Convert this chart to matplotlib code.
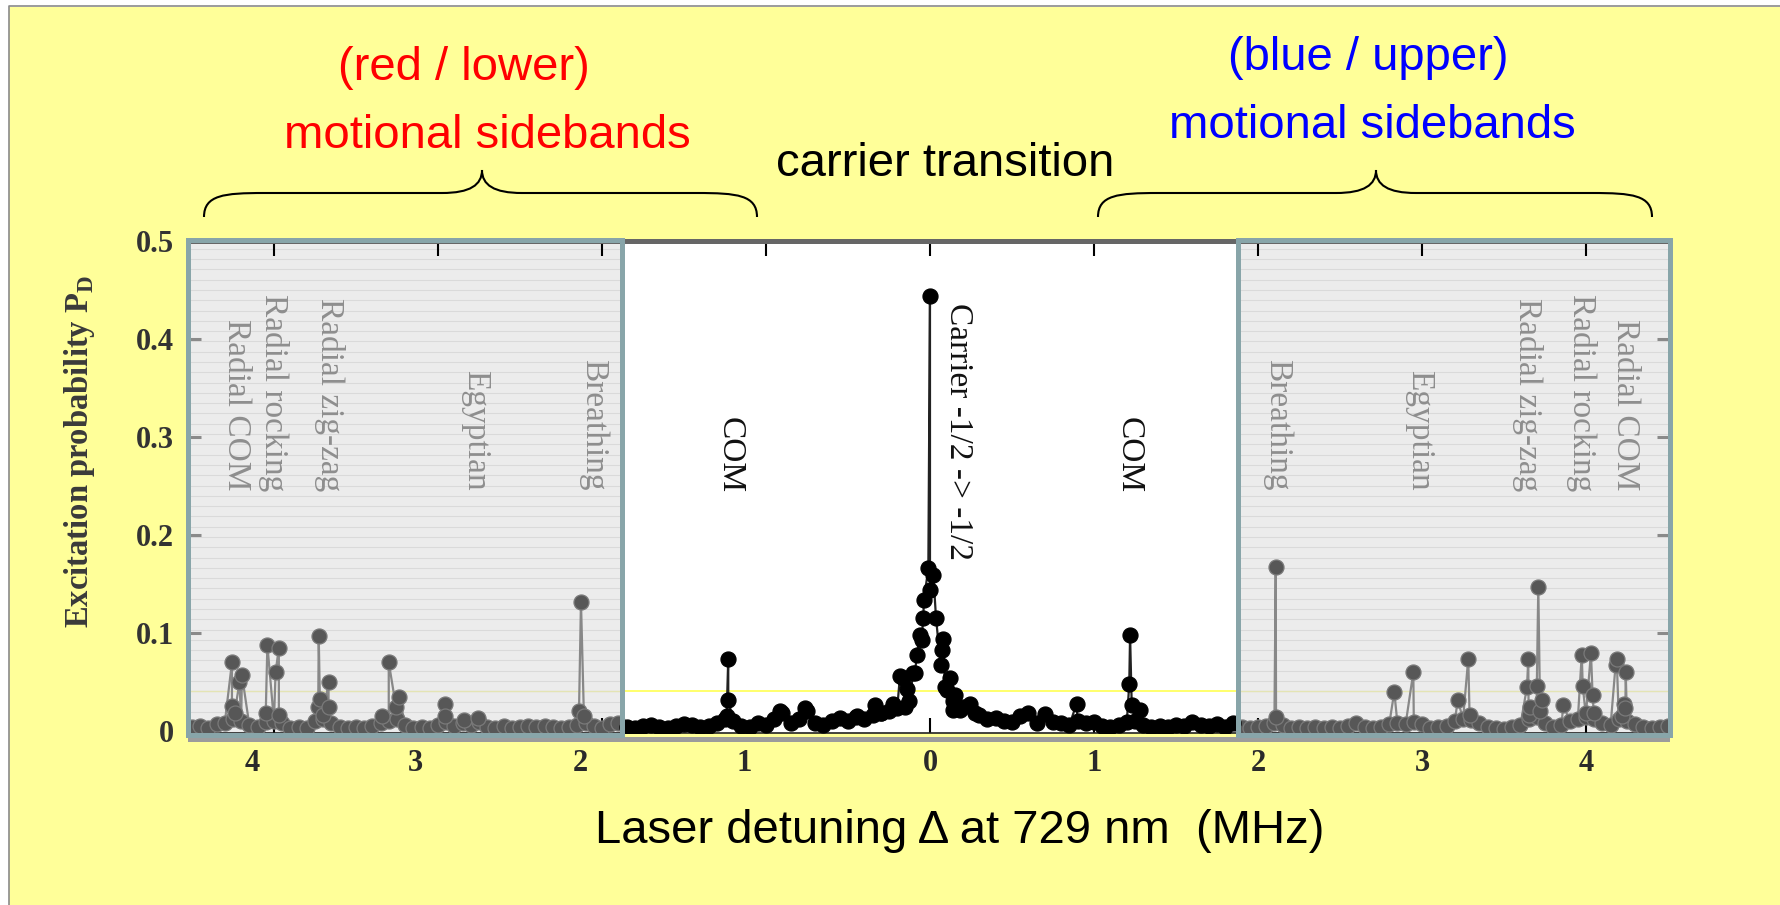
import numpy as np
import matplotlib
matplotlib.use("Agg")
import matplotlib.pyplot as plt
from matplotlib.patches import Rectangle, PathPatch
from matplotlib.path import Path

# ---------------- data: excitation probability vs. laser detuning (MHz) ----------------
# red (lower) sideband region: regular scan points
red_scan_x = [-4.50, -4.45, -4.40, -4.35, -4.30, -4.25, -4.20, -4.15, -4.10, -4.05,
              -4.00, -3.95, -3.90, -3.85, -3.80, -3.75, -3.70, -3.65, -3.60, -3.55,
              -3.50, -3.45, -3.40, -3.35, -3.30, -3.25, -3.20, -3.15, -3.10, -3.05,
              -3.00, -2.95, -2.90, -2.85, -2.80, -2.75, -2.70, -2.65, -2.60, -2.55,
              -2.50, -2.45, -2.40, -2.35, -2.30, -2.25, -2.20, -2.15, -2.10, -2.05,
              -2.00, -1.95, -1.90]
red_scan_y = [0.004, 0.005, 0.003, 0.007, 0.008, 0.012, 0.010, 0.006, 0.004, 0.009,
              0.010, 0.008, 0.003, 0.004, 0.003, 0.010, 0.012, 0.008, 0.004, 0.003,
              0.004, 0.003, 0.005, 0.008, 0.010, 0.012, 0.006, 0.003, 0.004, 0.003,
              0.006, 0.009, 0.005, 0.008, 0.006, 0.009, 0.004, 0.003, 0.005, 0.003,
              0.004, 0.005, 0.004, 0.005, 0.004, 0.003, 0.004, 0.006, 0.008, 0.005,
              0.003, 0.007, 0.008]
# red sideband resonances
red_peak_x = [-4.256, -4.256, -4.24, -4.21, -4.195, -4.05, -4.04, -3.99, -3.97, -3.97,
              -3.73, -3.727, -3.72, -3.70, -3.667, -3.667, -3.34, -3.30, -3.256, -3.236,
              -2.96, -2.96, -2.84, -2.758, -2.14, -2.128, -2.11]
red_peak_y = [0.070, 0.026, 0.018, 0.050, 0.057, 0.018, 0.088, 0.060, 0.085, 0.016,
              0.025, 0.097, 0.033, 0.016, 0.050, 0.025, 0.015, 0.070, 0.025, 0.035,
              0.028, 0.015, 0.011, 0.013, 0.020, 0.132, 0.015]

# carrier region: scan points on either side of the carrier
mid_left_x = [-1.85, -1.80, -1.75, -1.70, -1.65, -1.60, -1.55, -1.50, -1.45, -1.40,
              -1.35, -1.30, -1.25, -1.20, -1.15, -1.10, -1.05, -1.00, -0.95, -0.90,
              -0.85, -0.80, -0.75, -0.70, -0.65, -0.60, -0.55, -0.50, -0.45, -0.40,
              -0.35, -0.30, -0.25]
mid_left_y = [0.004, 0.003, 0.005, 0.006, 0.004, 0.003, 0.005, 0.007, 0.006, 0.004,
              0.005, 0.008, 0.012, 0.010, 0.005, 0.004, 0.008, 0.006, 0.012, 0.018,
              0.008, 0.012, 0.020, 0.008, 0.006, 0.010, 0.013, 0.010, 0.014, 0.012,
              0.016, 0.018, 0.020]
mid_right_x = [0.30, 0.35, 0.40, 0.45, 0.50, 0.55, 0.60, 0.65, 0.70, 0.75,
               0.80, 0.85, 0.90, 0.95, 1.00, 1.05, 1.10, 1.15, 1.20, 1.25,
               1.30, 1.35, 1.40, 1.45, 1.50, 1.55, 1.60, 1.65, 1.70, 1.75,
               1.80, 1.85]
mid_right_y = [0.016, 0.012, 0.013, 0.010, 0.009, 0.015, 0.018, 0.008, 0.017, 0.009,
               0.008, 0.006, 0.010, 0.008, 0.009, 0.005, 0.004, 0.006, 0.009, 0.010,
               0.006, 0.004, 0.005, 0.004, 0.006, 0.005, 0.009, 0.006, 0.005, 0.007,
               0.004, 0.008]
# carrier line, its wings and the axial COM sidebands
center_peak_x = [-1.23, -1.23, -1.24, -0.915, -0.762, -0.447, -0.335, -0.30, -0.224, -0.20,
                 -0.183, -0.163, -0.152, -0.142, -0.126, -0.102, -0.091, -0.081, -0.061, -0.051,
                 -0.041, -0.037, -0.010, 0.0, 0.0, 0.0205, 0.037, 0.065, 0.071, 0.081,
                 0.091, 0.102, 0.122, 0.14, 0.142, 0.152, 0.183, 0.20, 0.244, 0.274,
                 0.894, 1.215, 1.22, 1.23, 1.28]
center_peak_y = [0.074, 0.032, 0.015, 0.020, 0.023, 0.015, 0.027, 0.018, 0.028, 0.023,
                 0.056, 0.054, 0.025, 0.043, 0.031, 0.059, 0.059, 0.078, 0.098, 0.093,
                 0.115, 0.134, 0.166, 0.444, 0.144, 0.159, 0.115, 0.067, 0.083, 0.094,
                 0.045, 0.042, 0.054, 0.021, 0.031, 0.037, 0.021, 0.025, 0.028, 0.018,
                 0.028, 0.048, 0.098, 0.027, 0.021]

# blue (upper) sideband region
blue_scan_x = [1.90, 1.95, 2.00, 2.05, 2.10, 2.15, 2.20, 2.25, 2.30, 2.35,
               2.40, 2.45, 2.50, 2.55, 2.60, 2.65, 2.70, 2.75, 2.80, 2.85,
               2.90, 2.95, 3.00, 3.05, 3.10, 3.15, 3.20, 3.25, 3.30, 3.35,
               3.40, 3.45, 3.50, 3.55, 3.60, 3.65, 3.70, 3.75, 3.80, 3.85,
               3.90, 3.95, 4.00, 4.05, 4.10, 4.15, 4.20, 4.25, 4.30, 4.35,
               4.40, 4.45, 4.50]
blue_scan_y = [0.004, 0.003, 0.004, 0.005, 0.008, 0.006, 0.003, 0.004, 0.003, 0.004,
               0.003, 0.004, 0.003, 0.005, 0.008, 0.004, 0.003, 0.004, 0.007, 0.008,
               0.007, 0.009, 0.007, 0.003, 0.004, 0.005, 0.010, 0.012, 0.011, 0.008,
               0.004, 0.003, 0.002, 0.004, 0.006, 0.012, 0.014, 0.008, 0.004, 0.006,
               0.010, 0.012, 0.014, 0.012, 0.008, 0.006, 0.012, 0.010, 0.007, 0.004,
               0.003, 0.004, 0.005]
blue_peak_x = [2.108, 2.11, 2.831, 2.947, 3.218, 3.282, 3.29, 3.64, 3.648, 3.65,
               3.66, 3.70, 3.709, 3.72, 3.73, 3.862, 3.974, 3.98, 4.00, 4.03,
               4.04, 4.05, 4.18, 4.187, 4.22, 4.23, 4.24, 4.242]
blue_peak_y = [0.167, 0.014, 0.040, 0.060, 0.032, 0.074, 0.016, 0.045, 0.074, 0.016,
               0.025, 0.046, 0.147, 0.020, 0.032, 0.027, 0.078, 0.046, 0.018, 0.080,
               0.037, 0.018, 0.067, 0.074, 0.015, 0.028, 0.023, 0.060]

# mode labels
red_modes = ["Radial COM", "Radial rocking", "Radial zig-zag", "Egyptian", "Breathing"]
red_mode_pos = [-4.23, -4.00, -3.66, -2.77, -2.05]
blue_modes = ["Breathing", "Egyptian", "Radial zig-zag", "Radial rocking", "Radial COM"]
blue_mode_pos = [2.117, 2.986, 3.643, 3.97, 4.238]
com_pos = [-1.221, 1.212]
carrier_label = "Carrier -1/2 -> -1/2"
carrier_label_pos = 0.175

x_ticks = [-4, -3, -2, -1, 0, 1, 2, 3, 4]
x_tick_labels = ["4", "3", "2", "1", "0", "1", "2", "3", "4"]
y_ticks = [0, 0.1, 0.2, 0.3, 0.4, 0.5]
y_tick_labels = ["0", "0.1", "0.2", "0.3", "0.4", "0.5"]

sideband_edge = 1.875
x_lo, x_hi = -4.524, 4.512

# ---------------- styling ----------------
plt.rcParams['font.family'] = ['Liberation Serif', 'DejaVu Serif']
plt.rcParams['mathtext.fontset'] = 'custom'
plt.rcParams['mathtext.rm'] = 'Liberation Serif'
plt.rcParams['mathtext.bf'] = 'Liberation Serif:bold'
SANS = ['Liberation Sans', 'DejaVu Sans']

W, H, DPI = 1780, 905, 100
fig = plt.figure(figsize=(W / DPI, H / DPI), dpi=DPI, facecolor='white')

# slide background in pixel coordinates
bg = fig.add_axes([0, 0, 1, 1], zorder=0)
bg.set_xlim(0, W)
bg.set_ylim(H, 0)
bg.set_axis_off()
bg.add_patch(Rectangle((9, 7), W - 9, H - 7, facecolor='#ffff99', edgecolor='none'))
bg.plot([8.5, 8.5, W], [H, 6.5, 6.5], color='#8a8a8a', lw=1.2)


def brace(x0, x1, xm, y_end=217, y_mid=193, y_tip=170):
    verts = [(x0, y_end), (x0, y_mid + 2), (x0 + 20, y_mid), (x0 + 60, y_mid),
             (xm - 40, y_mid), (xm - 12, y_mid), (xm, y_mid - 8), (xm, y_tip),
             (xm, y_mid - 8), (xm + 12, y_mid), (xm + 40, y_mid),
             (x1 - 60, y_mid), (x1 - 20, y_mid), (x1, y_mid + 2), (x1, y_end)]
    codes = [Path.MOVETO, Path.CURVE4, Path.CURVE4, Path.CURVE4,
             Path.LINETO, Path.CURVE4, Path.CURVE4, Path.CURVE4,
             Path.CURVE4, Path.CURVE4, Path.CURVE4,
             Path.LINETO, Path.CURVE4, Path.CURVE4, Path.CURVE4]
    bg.add_patch(PathPatch(Path(verts, codes), facecolor='none', edgecolor='black', lw=1.5))


brace(204, 757, 482)
brace(1098, 1652, 1376)

bg.text(464, 80, "(red / lower)", color='#ff0000', fontsize=34, ha='center', va='baseline', family=SANS)
bg.text(487, 148, "motional sidebands", color='#ff0000', fontsize=34, ha='center', va='baseline', family=SANS)
bg.text(945, 176, "carrier transition", color='black', fontsize=34, ha='center', va='baseline', family=SANS)
bg.text(1368, 70, "(blue / upper)", color='#0000ff', fontsize=34, ha='center', va='baseline', family=SANS)
bg.text(1372, 138, "motional sidebands", color='#0000ff', fontsize=34, ha='center', va='baseline', family=SANS)
bg.text(960, 843, "Laser detuning \u0394 at 729 nm  (MHz)", color='black', fontsize=34,
        ha='center', va='baseline', family=SANS)

# ---------------- spectrum axes ----------------
top_px, bot_px, left_px, right_px = 241, 733, 188, 1670
ax = fig.add_axes([left_px / W, (H - bot_px) / H, (right_px - left_px) / W, (bot_px - top_px) / H], zorder=1)
ax.set_xlim(x_lo, x_hi)
ax.set_ylim(-0.002, 0.5)
ax.set_facecolor('white')

GREY_FILL = '#ececec'
TEAL = '#88a5a9'
for xa, xb in [(x_lo, -sideband_edge), (sideband_edge, x_hi)]:
    ax.add_patch(Rectangle((xa, -0.004), xb - xa, 0.505, facecolor=GREY_FILL,
                           edgecolor='none', zorder=0.2, clip_on=False))
    ax.hlines(np.arange(0.009, 0.5, 0.0105), xa, xb, colors='#dadada', lw=0.8, zorder=0.3)
    ax.hlines(0.041, xa, xb, colors='#e4e4b4', lw=1.0, zorder=0.4)
    ax.add_patch(Rectangle((xa, -0.004), xb - xa, 0.505, facecolor='none',
                           edgecolor=TEAL, lw=3.6, zorder=6, clip_on=False))
ax.hlines(0.041, -sideband_edge, sideband_edge, colors='#ffff60', lw=1.3, zorder=0.4)

# strip under the frequency axis
ax.add_patch(Rectangle((x_lo, -0.0112), x_hi - x_lo, 0.0052, facecolor='#9c9c9c',
                       edgecolor='none', zorder=0.5, clip_on=False))


def draw_series(xs, ys, line_c, mark_c, edge_c, z):
    xs = np.asarray(xs, float)
    ys = np.asarray(ys, float)
    order = np.argsort(xs, kind='stable')
    ax.plot(xs[order], ys[order], '-', color=line_c, lw=1.6, zorder=z)
    ax.plot(xs, ys, 'o', ms=10.8, color=mark_c, mec=edge_c, mew=0.9, zorder=z + 0.1)


draw_series(red_scan_x + red_peak_x, red_scan_y + red_peak_y, '#888888', '#575757', '#7a7a7a', 3)
draw_series(blue_scan_x + blue_peak_x, blue_scan_y + blue_peak_y, '#888888', '#575757', '#7a7a7a', 3)
draw_series(mid_left_x + center_peak_x + mid_right_x, mid_left_y + center_peak_y + mid_right_y,
            '#222222', 'black', 'black', 3.5)

# spines
for side in ['left', 'right']:
    ax.spines[side].set_visible(False)
ax.spines['top'].set_color('#666666')
ax.spines['top'].set_linewidth(3.6)
ax.spines['bottom'].set_color('#222222')
ax.spines['bottom'].set_linewidth(1.2)

# ticks
ax.set_xticks(x_ticks)
ax.tick_params(axis='x', direction='in', length=11, width=1.5, top=True, bottom=True,
               labelbottom=False)
for tick, xv in zip(ax.xaxis.get_major_ticks(), x_ticks):
    c = '#8a8a8a' if abs(xv) > sideband_edge else '#111111'
    tick.tick1line.set_color(c)
    tick.tick2line.set_color(c)
for xv, lbl in zip(x_ticks, x_tick_labels):
    shift = -0.135 if xv < 0 else 0.0
    ax.text(xv + shift, -0.063, lbl, transform=ax.get_xaxis_transform(), ha='center', va='center',
            fontsize=22, fontweight='bold', color='#2a2a2a')

ax.set_yticks(y_ticks)
ax.set_yticklabels(y_tick_labels)
ax.tick_params(axis='y', direction='in', length=9.5, width=2.2, left=True, right=True,
               color='#8a8a8a', labelcolor='#333333', labelsize=22, pad=10)
for lbl in ax.get_yticklabels():
    lbl.set_fontweight('bold')

ax.text(-0.073, 0.572, r"Excitation probability P$_\mathbf{D}$", transform=ax.transAxes,
        rotation=90, ha='center', va='center', fontsize=23.5, fontweight='bold', color='#3a3a3a')

# mode labels
for name, xv in zip(red_modes, red_mode_pos):
    ax.text(xv, 0.245, name, rotation=270, ha='center', va='bottom', fontsize=24, color='#8e8e8e', zorder=4)
for name, xv in zip(blue_modes, blue_mode_pos):
    ax.text(xv, 0.245, name, rotation=270, ha='center', va='bottom', fontsize=24, color='#8e8e8e', zorder=4)
for xv in com_pos:
    ax.text(xv, 0.243, "COM", rotation=270, ha='center', va='bottom', fontsize=24, color='#111111', zorder=4)
ax.text(carrier_label_pos, 0.175, carrier_label, rotation=270, ha='center', va='bottom',
        fontsize=24, color='#111111', zorder=4)

fig.savefig("out.png", dpi=DPI, facecolor='white')
